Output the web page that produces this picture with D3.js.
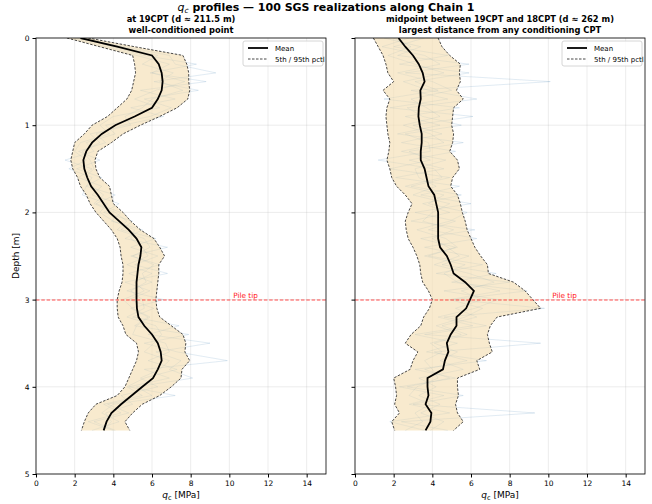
<!DOCTYPE html>
<html>
<head>
<meta charset="utf-8">
<script src="https://cdn.jsdelivr.net/npm/d3@7"></script>
<style>
  body { margin: 0; background: #fff; }
  svg { font-family: "DejaVu Sans", sans-serif; }
</style>
</head>
<body>
<svg id="chart" width="652" height="504"></svg>
<script>
// DATA (depth step 0.1 m, 0 to 4.5 m)
const depths = d3.range(0, 46).map(i => i / 10)
const xTicks = [0, 2, 4, 6, 8, 10, 12, 14]
const yTicks = [0, 1, 2, 3, 4, 5]
const pileTip = 3.0

// left panel : at 19CPT
const leftMean = [2.3,4.2,6.0,6.35,6.5,6.55,6.5,6.3,6.0,5.1,4.1,3.4,2.9,2.6,2.45,2.5,2.65,2.85,3.2,3.5,3.8,4.3,4.8,5.2,5.45,5.4,5.3,5.25,5.2,5.2,5.2,5.22,5.3,5.6,6.0,6.3,6.45,6.5,6.3,6.05,5.5,4.95,4.4,3.9,3.65,3.5]
const leftP5 = [1.6,3.3,5.0,5.1,5.15,5.05,4.95,4.7,4.2,3.7,2.9,2.5,2.0,1.9,1.8,1.9,2.15,2.3,2.6,2.8,3.1,3.5,3.9,4.2,4.35,4.4,4.5,4.5,4.45,4.3,4.2,4.2,4.25,4.5,4.65,5.2,5.3,5.2,5.0,4.8,4.6,4.2,3.1,2.7,2.5,2.35]
const leftP95 = [2.7,5.1,7.6,7.8,7.9,7.9,7.95,7.85,7.3,6.4,5.4,4.5,3.9,3.2,3.05,3.1,3.3,3.8,3.9,4.0,4.5,4.9,5.4,6.1,6.4,6.65,6.35,6.35,6.3,6.25,6.2,6.25,6.4,7.0,7.6,7.75,7.7,7.95,7.55,7.5,7.0,6.4,5.5,5.0,4.6,4.85]
const leftReals = [
    [2.0,4.6,6.9,7.2,9.3,6.1,8.4,5.6,7.0,5.9,3.6,4.1,2.6,3.0,1.5,2.9,2.2,3.4,2.9,4.3,3.5,5.0,4.4,6.2,4.9,6.3,5.1,6.8,4.6,5.9,4.8,6.1,5.0,7.4,5.8,9.0,6.2,7.5,6.9,8.1,5.2,6.0,3.7,4.8,3.0,4.1],
    [2.5,3.9,5.6,8.3,5.9,8.8,5.4,7.2,4.9,6.6,4.5,3.1,3.6,2.2,3.3,2.1,3.4,2.6,4.1,3.1,4.4,3.9,5.5,4.6,6.8,4.9,6.4,4.8,6.0,4.7,6.6,4.9,5.8,5.1,7.9,5.6,7.3,9.9,5.6,6.9,4.8,7.2,4.0,3.4,4.3,2.9],
    [2.2,4.4,6.3,5.5,7.1,6.4,7.6,6.0,5.5,4.6,4.9,2.8,3.3,2.4,2.8,3.0,2.5,2.9,3.5,3.0,4.1,4.7,4.2,5.6,5.9,5.0,6.1,5.5,5.7,4.9,5.5,5.6,4.7,6.2,6.5,6.1,5.6,6.9,6.4,5.4,6.3,4.4,5.0,3.6,3.9,3.5],
    [1.8,3.6,5.2,6.9,6.0,7.7,6.2,5.1,6.4,4.0,3.3,3.8,2.3,2.0,2.6,1.7,2.9,2.6,2.4,3.7,3.3,4.0,5.1,4.9,5.5,5.8,4.7,6.0,5.1,5.6,4.5,5.0,5.9,5.2,5.0,6.7,6.9,5.8,7.3,5.6,4.7,5.5,3.5,4.4,2.7,4.0]
]

// right panel : midpoint between 19CPT and 18CPT
const rightMean = [2.25,2.6,3.0,3.3,3.5,3.6,3.38,3.4,3.3,3.28,3.35,3.45,3.45,3.4,3.4,3.6,3.7,3.8,4.1,4.2,4.3,4.3,4.3,4.3,4.4,4.75,4.95,5.1,5.7,6.15,5.95,5.75,5.25,5.25,4.95,4.75,4.83,4.65,4.55,3.75,3.75,3.8,3.65,3.95,3.9,3.65]
const rightP5 = [0.95,1.2,1.45,1.6,1.7,2.0,1.45,1.8,1.65,1.6,1.65,1.7,1.8,1.75,1.65,1.8,1.9,2.15,2.6,2.95,2.75,2.6,2.65,2.75,3.0,3.2,3.35,3.4,3.5,3.8,4.0,3.85,3.55,3.4,2.9,2.6,3.25,3.0,2.85,2.0,2.1,2.15,2.05,2.3,1.9,2.05]
const rightP95 = [4.3,4.5,4.9,5.45,5.4,5.45,5.25,5.6,5.1,5.05,5.0,5.1,5.05,4.9,5.3,5.4,5.05,4.95,5.3,5.45,5.55,5.7,5.8,6.0,6.2,6.5,6.85,6.9,8.2,8.8,9.2,9.6,7.35,7.0,6.85,6.95,7.1,6.3,6.45,5.3,5.3,5.35,5.2,5.3,5.6,5.1]
const rightReals = [
    [1.5,3.4,2.2,5.9,2.6,10.1,2.9,4.8,1.8,6.1,3.0,4.5,2.4,5.2,2.8,4.6,2.1,5.4,3.4,6.0,3.1,5.2,3.8,6.3,3.6,5.9,4.5,7.3,5.0,8.9,5.1,9.8,4.6,6.8,3.6,9.6,4.1,5.8,3.6,4.9,2.7,5.6,3.0,9.3,2.4,4.8],
    [3.6,2.0,4.8,2.3,5.9,3.1,4.3,1.5,5.4,2.6,4.4,2.2,5.6,2.8,3.9,1.8,4.9,2.9,5.5,3.5,4.9,2.9,6.2,3.4,5.2,3.8,6.6,4.2,8.0,4.6,7.4,6.2,4.3,6.1,3.1,5.3,3.7,6.8,3.1,5.2,2.3,4.6,2.8,4.9,1.8,3.6],
    [2.8,1.4,3.6,4.4,2.2,4.0,5.0,2.9,3.7,4.4,2.5,3.9,4.6,2.4,4.7,3.1,3.3,4.2,3.0,4.9,4.0,3.5,5.1,4.0,4.8,5.4,4.1,5.9,7.2,5.5,6.6,5.2,6.3,4.5,5.8,4.1,5.3,4.4,5.6,3.3,4.2,3.3,4.4,3.4,4.6,3.9],
    [2.0,2.9,1.7,3.1,4.6,2.5,3.8,6.3,2.7,3.5,5.5,2.6,3.8,3.9,1.2,4.1,4.5,2.6,4.6,3.8,5.8,4.9,3.2,4.7,5.3,3.6,5.7,4.6,5.3,7.5,4.9,6.6,5.7,4.2,5.5,3.9,4.5,3.6,4.0,4.3,3.2,2.8,3.9,3.1,3.5,2.6]
]

const panels = [
    { left: 36, title1: 'at 19CPT (d \u2248 211.5 m)', title2: 'well-conditioned point',
      mean: leftMean, p5: leftP5, p95: leftP95, reals: leftReals, yLabels: true },
    { left: 355, title1: 'midpoint between 19CPT and 18CPT (d \u2248 262 m)', title2: 'largest distance from any conditioning CPT',
      mean: rightMean, p5: rightP5, p95: rightP95, reals: rightReals, yLabels: false }
]

// LAYOUT
const svg = d3.select('#chart')
const plotW = 290
const plotTop = 38, plotBottom = 474

const y = d3.scaleLinear().domain([0, 5]).range([plotTop, plotBottom])

// main title (q_c is math text, not bold)
const title = svg.append('text')
    .attr('x', 326).attr('y', 10.5)
    .attr('text-anchor', 'middle')
    .attr('font-size', 11)
title.append('tspan').attr('font-style', 'italic').text('q')
title.append('tspan').attr('font-style', 'italic').attr('font-size', 7.5).attr('dy', 2).text('c')
title.append('tspan').attr('dy', -2).attr('font-weight', 'bold').text(' profiles \u2014 100 SGS realizations along Chain 1')

panels.forEach(p => {
    const x = d3.scaleLinear().domain([0, 15]).range([p.left, p.left + plotW])
    const g = svg.append('g')
    const cx = p.left + plotW / 2

    // subtitles
    g.append('text').attr('x', cx).attr('y', 22).attr('text-anchor', 'middle')
        .attr('font-size', 8.3).attr('font-weight', 'bold').text(p.title1)
    g.append('text').attr('x', cx).attr('y', 33).attr('text-anchor', 'middle')
        .attr('font-size', 8.3).attr('font-weight', 'bold').text(p.title2)

    // grid
    g.selectAll('.vgrid').data(xTicks).join('line')
        .attr('x1', d => x(d)).attr('x2', d => x(d))
        .attr('y1', plotTop).attr('y2', plotBottom)
        .attr('stroke', '#b0b0b0').attr('stroke-opacity', 0.3).attr('stroke-width', 0.8)
    g.selectAll('.hgrid').data(yTicks).join('line')
        .attr('x1', p.left).attr('x2', p.left + plotW)
        .attr('y1', d => y(d)).attr('y2', d => y(d))
        .attr('stroke', '#b0b0b0').attr('stroke-opacity', 0.3).attr('stroke-width', 0.8)

    // clip to the axes box
    const clipId = 'clip' + p.left
    svg.append('defs').append('clipPath').attr('id', clipId)
        .append('rect').attr('x', p.left).attr('y', plotTop).attr('width', plotW).attr('height', plotBottom - plotTop)
    const plot = g.append('g').attr('clip-path', `url(#${clipId})`)

    const line = d3.line().x(d => x(d[0])).y(d => y(d[1]))

    // realizations
    p.reals.forEach(r => {
        plot.append('path')
            .datum(r.map((v, i) => [v, depths[i]]))
            .attr('d', line)
            .attr('fill', 'none')
            .attr('stroke', '#4682b4')
            .attr('stroke-opacity', 0.2)
            .attr('stroke-width', 0.6)
    })

    // percentile band
    const area = d3.area()
        .y(d => y(d.d))
        .x0(d => x(d.lo))
        .x1(d => x(d.hi))
    const bandData = depths.map((d, i) => ({ d: d, lo: p.p5[i], hi: p.p95[i] }))
    plot.append('path')
        .datum(bandData)
        .attr('d', area)
        .attr('fill', '#f5deb3')
        .attr('fill-opacity', 0.65)

    // realizations show faintly through the band
    p.reals.forEach(r => {
        plot.append('path')
            .datum(r.map((v, i) => [v, depths[i]]))
            .attr('d', line)
            .attr('fill', 'none')
            .attr('stroke', '#4682b4')
            .attr('stroke-opacity', 0.08)
            .attr('stroke-width', 0.6)
    })

    // p5 / p95
    ;[p.p5, p.p95].forEach(arr => {
        plot.append('path')
            .datum(arr.map((v, i) => [v, depths[i]]))
            .attr('d', line)
            .attr('fill', 'none')
            .attr('stroke', '#333')
            .attr('stroke-width', 0.9)
            .attr('stroke-dasharray', '2.5,1.5')
    })

    // mean
    plot.append('path')
        .datum(p.mean.map((v, i) => [v, depths[i]]))
        .attr('d', line)
        .attr('fill', 'none')
        .attr('stroke', '#000')
        .attr('stroke-width', 1.8)

    // pile tip
    const yTip = Math.round(y(pileTip))
    g.append('line')
        .attr('x1', p.left).attr('x2', p.left + plotW)
        .attr('y1', yTip).attr('y2', yTip)
        .attr('stroke', '#ff2020').attr('stroke-opacity', 0.8)
        .attr('stroke-width', 1.2).attr('stroke-dasharray', '3.5,1.8')
    g.append('text')
        .attr('x', x(10.2)).attr('y', yTip - 2.5)
        .attr('font-size', 7.3).attr('fill', '#ff2020')
        .text('Pile tip')

    // axes
    const xAxis = d3.axisBottom(x).tickValues(xTicks).tickSize(3.5).tickPadding(3)
    const gx = g.append('g').attr('transform', `translate(0,${plotBottom})`).call(xAxis)
    gx.select('.domain').remove()
    gx.selectAll('text').attr('font-size', 7.5).attr('font-family', 'DejaVu Sans')

    const yAxis = d3.axisLeft(y).tickValues(yTicks).tickSize(3.5).tickPadding(3)
        .tickFormat(p.yLabels ? d3.format('d') : '')
    const gy = g.append('g').attr('transform', `translate(${p.left},0)`).call(yAxis)
    gy.select('.domain').remove()
    gy.selectAll('text').attr('font-size', 7.5).attr('font-family', 'DejaVu Sans')

    // frame
    g.append('rect')
        .attr('x', p.left).attr('y', plotTop)
        .attr('width', plotW).attr('height', plotBottom - plotTop)
        .attr('fill', 'none').attr('stroke', '#000').attr('stroke-width', 0.8)

    // x label
    const xl = g.append('text').attr('x', cx).attr('y', 498)
        .attr('text-anchor', 'middle').attr('font-size', 9)
    xl.append('tspan').attr('font-style', 'italic').text('q')
    xl.append('tspan').attr('font-size', 6.5).attr('dy', 2).text('c')
    xl.append('tspan').attr('dy', -2).text(' [MPa]')

    if (p.yLabels) {
        g.append('text')
            .attr('transform', `translate(19,${(plotTop + plotBottom) / 2}) rotate(-90)`)
            .attr('text-anchor', 'middle').attr('font-size', 9)
            .text('Depth [m]')
    }

    // legend
    const lx = p.left + plotW - 83, ly = 41
    const leg = g.append('g')
    leg.append('rect').attr('x', lx).attr('y', ly).attr('width', 80).attr('height', 25)
        .attr('rx', 2).attr('fill', '#fff').attr('fill-opacity', 0.8)
        .attr('stroke', '#ccc').attr('stroke-width', 0.8)
    leg.append('line').attr('x1', lx + 5).attr('x2', lx + 25).attr('y1', ly + 7).attr('y2', ly + 7)
        .attr('stroke', '#000').attr('stroke-width', 1.8)
    leg.append('text').attr('x', lx + 32).attr('y', ly + 9.5).attr('font-size', 7).text('Mean')
    leg.append('line').attr('x1', lx + 5).attr('x2', lx + 25).attr('y1', ly + 18).attr('y2', ly + 18)
        .attr('stroke', '#333').attr('stroke-width', 0.9).attr('stroke-dasharray', '2.5,1.5')
    leg.append('text').attr('x', lx + 32).attr('y', ly + 20.5).attr('font-size', 7).text('5th / 95th pctl')
})
</script>
</body>
</html>
